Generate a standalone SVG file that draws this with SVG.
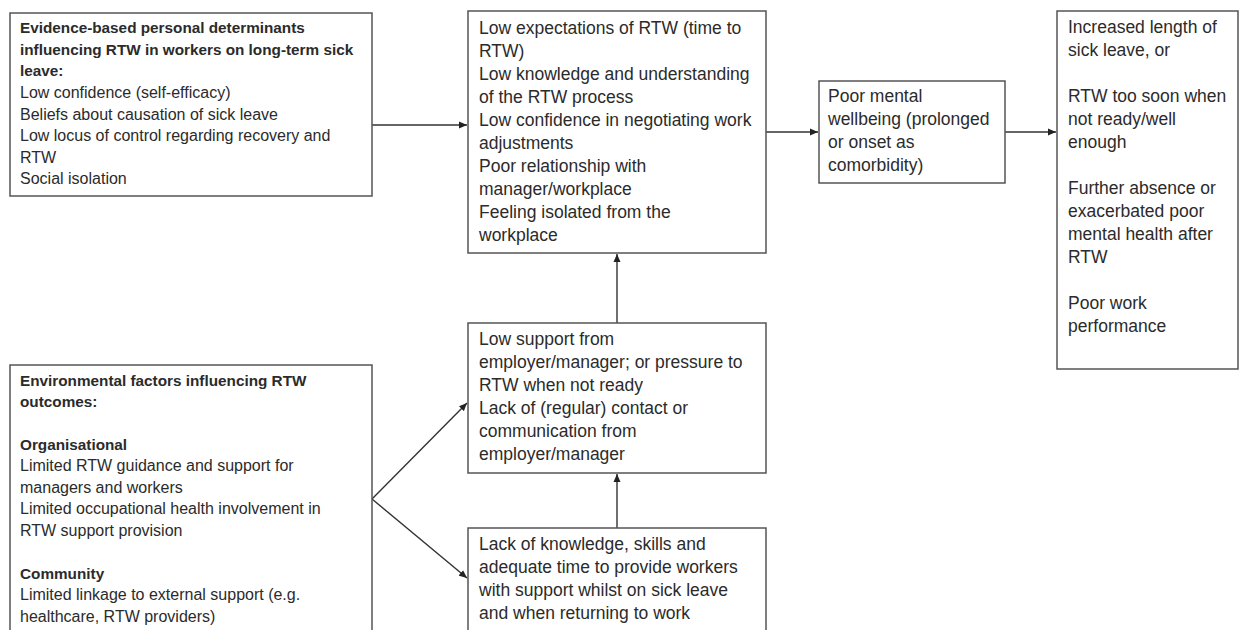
<svg xmlns="http://www.w3.org/2000/svg" width="1242" height="630" viewBox="0 0 1242 630">
<defs>
<style>
.box{fill:#fff;stroke:#555;stroke-width:1.5}
.t{font-family:"Liberation Sans",Arial,sans-serif;fill:#2b2b2b}
.s{font-size:16px}
.b{font-size:15.3px;font-weight:bold}
.m{font-size:17.5px}
.c{stroke:#333;stroke-width:1.4;fill:none;marker-end:url(#ah)}
</style>
<marker id="ah" markerUnits="userSpaceOnUse" markerWidth="9" markerHeight="8" refX="8" refY="4" orient="auto">
<path d="M0,0.5 L8,4 L0,7.5 z" fill="#222"/>
</marker>
</defs>
<rect width="1242" height="630" fill="#fff"/>
<g id="connectors">
<line class="c" x1="372" y1="125" x2="467" y2="125"/>
<line class="c" x1="766" y1="132" x2="818" y2="132"/>
<line class="c" x1="1005" y1="132" x2="1056" y2="132"/>
<line class="c" x1="617" y1="323" x2="617" y2="254"/>
<line class="c" x1="617" y1="528" x2="617" y2="474"/>
<line class="c" x1="372" y1="499" x2="467" y2="403"/>
<line class="c" x1="372" y1="499" x2="467" y2="578"/>
</g>
<g id="personal">
<rect class="box" x="10" y="13" width="362" height="183"/>
<text class="t b" x="20" y="33">Evidence-based personal determinants</text>
<text class="t b" x="20" y="54.5">influencing RTW in workers on long-term sick</text>
<text class="t b" x="20" y="76">leave:</text>
<text class="t s" x="20" y="98">Low confidence (self-efficacy)</text>
<text class="t s" x="20" y="119.5">Beliefs about causation of sick leave</text>
<text class="t s" x="20" y="141">Low locus of control regarding recovery and</text>
<text class="t s" x="20" y="162.5">RTW</text>
<text class="t s" x="20" y="184">Social isolation</text>
</g>
<g id="environmental">
<rect class="box" x="10" y="365" width="362" height="280"/>
<text class="t b" x="20" y="386">Environmental factors influencing RTW</text>
<text class="t b" x="20" y="407">outcomes:</text>
<text class="t b" x="20" y="450">Organisational</text>
<text class="t s" x="20" y="471">Limited RTW guidance and support for</text>
<text class="t s" x="20" y="492.5">managers and workers</text>
<text class="t s" x="20" y="514">Limited occupational health involvement in</text>
<text class="t s" x="20" y="535.5">RTW support provision</text>
<text class="t b" x="20" y="579">Community</text>
<text class="t s" x="20" y="600">Limited linkage to external support (e.g.</text>
<text class="t s" x="20" y="621.5">healthcare, RTW providers)</text>
</g>
<g id="expectations">
<rect class="box" x="468" y="11" width="298" height="242"/>
<text class="t m" x="479" y="34">Low expectations of RTW (time to</text>
<text class="t m" x="479" y="57">RTW)</text>
<text class="t m" x="479" y="80">Low knowledge and understanding</text>
<text class="t m" x="479" y="103">of the RTW process</text>
<text class="t m" x="479" y="126">Low confidence in negotiating work</text>
<text class="t m" x="479" y="149">adjustments</text>
<text class="t m" x="479" y="172">Poor relationship with</text>
<text class="t m" x="479" y="195">manager/workplace</text>
<text class="t m" x="479" y="218">Feeling isolated from the</text>
<text class="t m" x="479" y="241">workplace</text>
</g>
<g id="support">
<rect class="box" x="468" y="323" width="298" height="150"/>
<text class="t m" x="479" y="345">Low support from</text>
<text class="t m" x="479" y="368">employer/manager; or pressure to</text>
<text class="t m" x="479" y="391">RTW when not ready</text>
<text class="t m" x="479" y="414">Lack of (regular) contact or</text>
<text class="t m" x="479" y="437">communication from</text>
<text class="t m" x="479" y="460">employer/manager</text>
</g>
<g id="knowledge">
<rect class="box" x="468" y="528" width="298" height="120"/>
<text class="t m" x="479" y="550">Lack of knowledge, skills and</text>
<text class="t m" x="479" y="573">adequate time to provide workers</text>
<text class="t m" x="479" y="596">with support whilst on sick leave</text>
<text class="t m" x="479" y="619">and when returning to work</text>
</g>
<g id="wellbeing">
<rect class="box" x="819" y="81" width="186" height="102"/>
<text class="t m" x="828" y="102">Poor mental</text>
<text class="t m" x="828" y="125">wellbeing (prolonged</text>
<text class="t m" x="828" y="148">or onset as</text>
<text class="t m" x="828" y="171">comorbidity)</text>
</g>
<g id="outcomes">
<rect class="box" x="1057" y="11" width="181" height="358"/>
<text class="t m" x="1068" y="33">Increased length of</text>
<text class="t m" x="1068" y="56">sick leave, or</text>
<text class="t m" x="1068" y="102">RTW too soon when</text>
<text class="t m" x="1068" y="125">not ready/well</text>
<text class="t m" x="1068" y="148">enough</text>
<text class="t m" x="1068" y="194">Further absence or</text>
<text class="t m" x="1068" y="217">exacerbated poor</text>
<text class="t m" x="1068" y="240">mental health after</text>
<text class="t m" x="1068" y="263">RTW</text>
<text class="t m" x="1068" y="309">Poor work</text>
<text class="t m" x="1068" y="332">performance</text>
</g>
</svg>
